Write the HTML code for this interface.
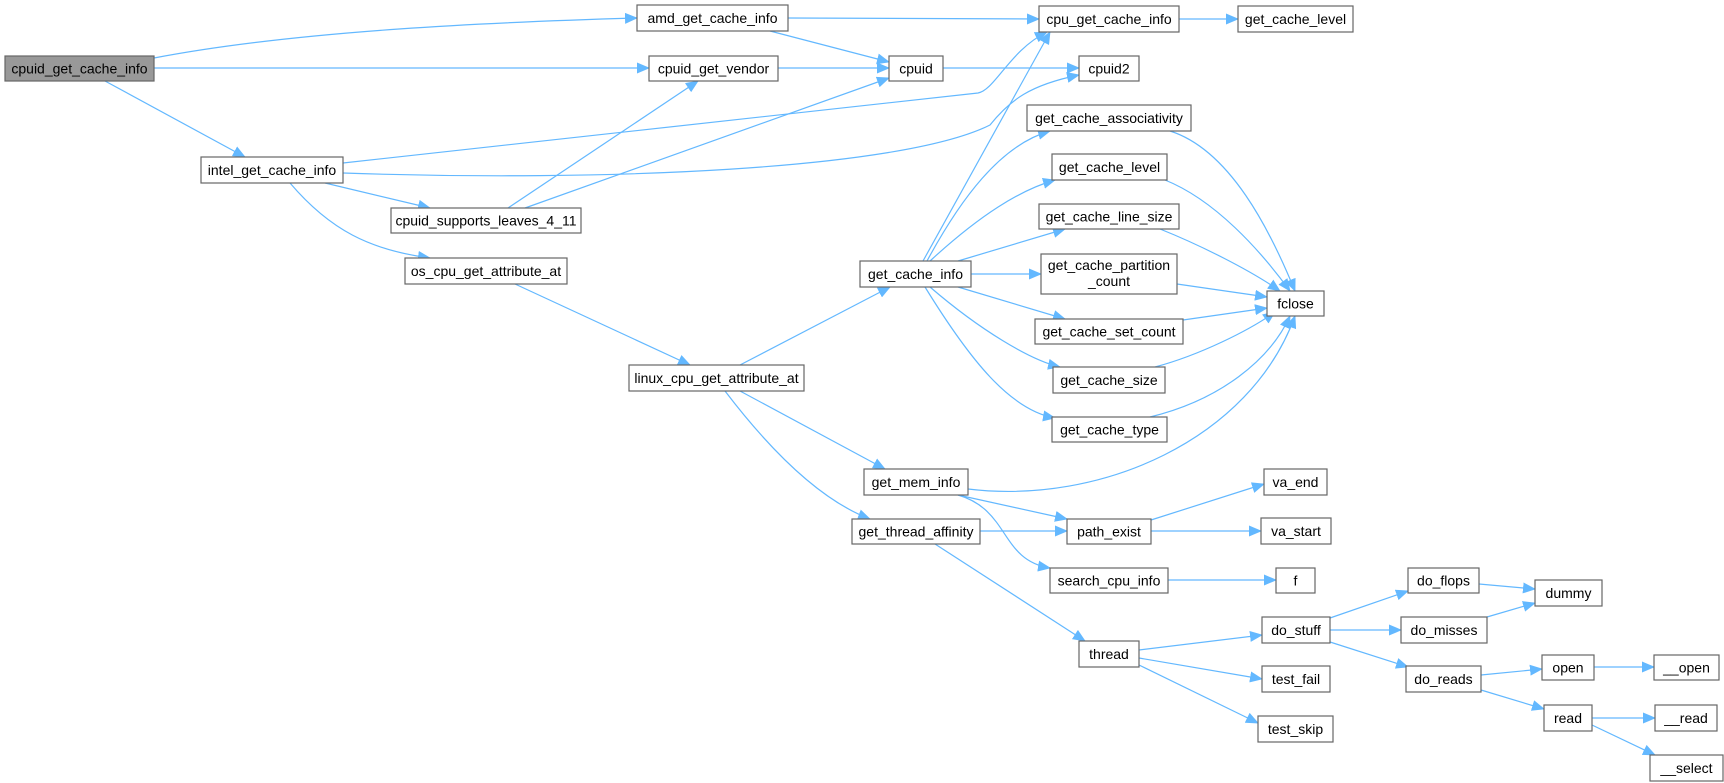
<!DOCTYPE html>
<html><head><meta charset="utf-8"><style>
html,body{margin:0;padding:0;background:#fff;}
svg{display:block;}
text{font-family:"Liberation Sans",Arial,sans-serif;font-size:14px;fill:#000;text-anchor:middle;}
.n{fill:#fff;stroke:#666;stroke-width:1.2;}
.e{fill:none;stroke:#63b8ff;stroke-width:1.2;marker-end:url(#a);}
</style></head><body>
<svg width="1724" height="783" viewBox="0 0 1724 783" xmlns="http://www.w3.org/2000/svg">
<defs><marker id="a" markerWidth="13" markerHeight="11" refX="12" refY="5.5" orient="auto" markerUnits="userSpaceOnUse"><path d="M0,0 L13,5.5 L0,11 z" fill="#63b8ff"/></marker></defs>
<g>
<path class="e" d="M154,58 C300,30 500,22 637,18"/>
<path class="e" d="M154,68 L649,68"/>
<path class="e" d="M105,81 L245,157"/>
<path class="e" d="M788,18 L1039,19"/>
<path class="e" d="M770,31 L889,62"/>
<path class="e" d="M778,68 L889,68"/>
<path class="e" d="M343,163 L978,93 C995,90 1010,50 1047,32"/>
<path class="e" d="M343,173 C600,182 900,170 990,125 C1010,100 1030,85 1079,75"/>
<path class="e" d="M325,183 L430,208"/>
<path class="e" d="M290,183 C330,230 370,250 430,258"/>
<path class="e" d="M943,68 L1079,68"/>
<path class="e" d="M508,208 L698,81"/>
<path class="e" d="M525,208 L889,78"/>
<path class="e" d="M515,284 L690,365"/>
<path class="e" d="M740,365 L890,287"/>
<path class="e" d="M740,391 L885,469"/>
<path class="e" d="M725,391 C770,450 820,500 870,519"/>
<path class="e" d="M923,261 L1050,32"/>
<path class="e" d="M927,261 C960,200 1000,145 1050,131"/>
<path class="e" d="M930,261 C980,215 1020,190 1055,180"/>
<path class="e" d="M958,261 L1065,229"/>
<path class="e" d="M971,274 L1041,274"/>
<path class="e" d="M958,287 L1065,319"/>
<path class="e" d="M930,287 C980,330 1030,360 1060,367"/>
<path class="e" d="M925,287 C970,360 1010,410 1055,418"/>
<path class="e" d="M1170,131 C1230,150 1270,230 1295,291"/>
<path class="e" d="M1165,180 C1215,200 1260,250 1290,291"/>
<path class="e" d="M1160,229 C1200,245 1250,270 1280,291"/>
<path class="e" d="M1177,284 L1267,297"/>
<path class="e" d="M1183,320 L1267,308"/>
<path class="e" d="M1155,367 C1200,355 1250,330 1275,312"/>
<path class="e" d="M1150,417 C1220,400 1270,360 1290,316"/>
<path class="e" d="M968,489 C1100,505 1250,440 1295,316"/>
<path class="e" d="M1179,19 L1238,19"/>
<path class="e" d="M958,495 L1067,519"/>
<path class="e" d="M958,495 C1010,510 1000,560 1050,568"/>
<path class="e" d="M980,531 L1067,531"/>
<path class="e" d="M935,544 L1085,641"/>
<path class="e" d="M1151,520 L1264,484"/>
<path class="e" d="M1151,531 L1261,531"/>
<path class="e" d="M1168,580 L1276,580"/>
<path class="e" d="M1139,650 L1262,635"/>
<path class="e" d="M1139,658 L1262,679"/>
<path class="e" d="M1139,665 L1258,723"/>
<path class="e" d="M1330,618 L1408,591"/>
<path class="e" d="M1330,630 L1401,630"/>
<path class="e" d="M1330,642 L1408,667"/>
<path class="e" d="M1479,584 L1535,589"/>
<path class="e" d="M1487,617 L1535,603"/>
<path class="e" d="M1481,675 L1542,669"/>
<path class="e" d="M1481,690 L1544,709"/>
<path class="e" d="M1594,667 L1654,667"/>
<path class="e" d="M1592,718 L1655,718"/>
<path class="e" d="M1592,725 L1655,755"/>
</g>
<g>
<rect x="5" y="56" width="149" height="25" style="fill:#999;stroke:#666;stroke-width:1.2"/><text x="79.5" y="73.5">cpuid_get_cache_info</text>
<rect class="n" x="637" y="5" width="151" height="26"/><text x="712.5" y="23">amd_get_cache_info</text>
<rect class="n" x="649" y="56" width="129" height="25"/><text x="713.5" y="73.5">cpuid_get_vendor</text>
<rect class="n" x="201" y="157" width="142" height="26"/><text x="272" y="175">intel_get_cache_info</text>
<rect class="n" x="391" y="208" width="190" height="25"/><text x="486" y="225.5">cpuid_supports_leaves_4_11</text>
<rect class="n" x="405" y="258" width="162" height="26"/><text x="486" y="276">os_cpu_get_attribute_at</text>
<rect class="n" x="629" y="365" width="175" height="26"/><text x="716.5" y="383">linux_cpu_get_attribute_at</text>
<rect class="n" x="1039" y="6" width="140" height="26"/><text x="1109" y="24">cpu_get_cache_info</text>
<rect class="n" x="1238" y="6" width="115" height="26"/><text x="1295.5" y="24">get_cache_level</text>
<rect class="n" x="889" y="56" width="54" height="25"/><text x="916" y="73.5">cpuid</text>
<rect class="n" x="1079" y="56" width="60" height="25"/><text x="1109" y="73.5">cpuid2</text>
<rect class="n" x="1027" y="105" width="164" height="26"/><text x="1109" y="123">get_cache_associativity</text>
<rect class="n" x="1052" y="154" width="115" height="26"/><text x="1109.5" y="172">get_cache_level</text>
<rect class="n" x="1039" y="204" width="140" height="25"/><text x="1109" y="221.5">get_cache_line_size</text>
<rect class="n" x="1041" y="254" width="136" height="40"/><text x="1109" y="270">get_cache_partition</text><text x="1109" y="286">_count</text>
<rect class="n" x="860" y="261" width="111" height="26"/><text x="915.5" y="279">get_cache_info</text>
<rect class="n" x="1267" y="291" width="57" height="25"/><text x="1295.5" y="308.5">fclose</text>
<rect class="n" x="1035" y="319" width="148" height="25"/><text x="1109" y="336.5">get_cache_set_count</text>
<rect class="n" x="1053" y="367" width="112" height="26"/><text x="1109" y="385">get_cache_size</text>
<rect class="n" x="1052" y="417" width="115" height="25"/><text x="1109.5" y="434.5">get_cache_type</text>
<rect class="n" x="864" y="469" width="104" height="26"/><text x="916" y="487">get_mem_info</text>
<rect class="n" x="852" y="519" width="128" height="25"/><text x="916" y="536.5">get_thread_affinity</text>
<rect class="n" x="1067" y="519" width="84" height="25"/><text x="1109" y="536.5">path_exist</text>
<rect class="n" x="1050" y="568" width="118" height="25"/><text x="1109" y="585.5">search_cpu_info</text>
<rect class="n" x="1079" y="641" width="60" height="26"/><text x="1109" y="659">thread</text>
<rect class="n" x="1264" y="469" width="63" height="26"/><text x="1295.5" y="487">va_end</text>
<rect class="n" x="1261" y="518" width="70" height="26"/><text x="1296" y="536">va_start</text>
<rect class="n" x="1276" y="568" width="39" height="25"/><text x="1295.5" y="585.5">f</text>
<rect class="n" x="1262" y="617" width="68" height="26"/><text x="1296" y="635">do_stuff</text>
<rect class="n" x="1262" y="666" width="68" height="26"/><text x="1296" y="684">test_fail</text>
<rect class="n" x="1258" y="716" width="75" height="26"/><text x="1295.5" y="734">test_skip</text>
<rect class="n" x="1408" y="568" width="71" height="25"/><text x="1443.5" y="585.5">do_flops</text>
<rect class="n" x="1401" y="617" width="86" height="26"/><text x="1444" y="635">do_misses</text>
<rect class="n" x="1406" y="666" width="75" height="26"/><text x="1443.5" y="684">do_reads</text>
<rect class="n" x="1535" y="580" width="67" height="26"/><text x="1568.5" y="598">dummy</text>
<rect class="n" x="1542" y="655" width="52" height="25"/><text x="1568" y="672.5">open</text>
<rect class="n" x="1654" y="655" width="65" height="25"/><text x="1686.5" y="672.5">__open</text>
<rect class="n" x="1544" y="705" width="48" height="26"/><text x="1568" y="723">read</text>
<rect class="n" x="1655" y="705" width="62" height="26"/><text x="1686" y="723">__read</text>
<rect class="n" x="1650" y="755" width="73" height="26"/><text x="1686.5" y="773">__select</text>
</g>
</svg>
</body></html>
